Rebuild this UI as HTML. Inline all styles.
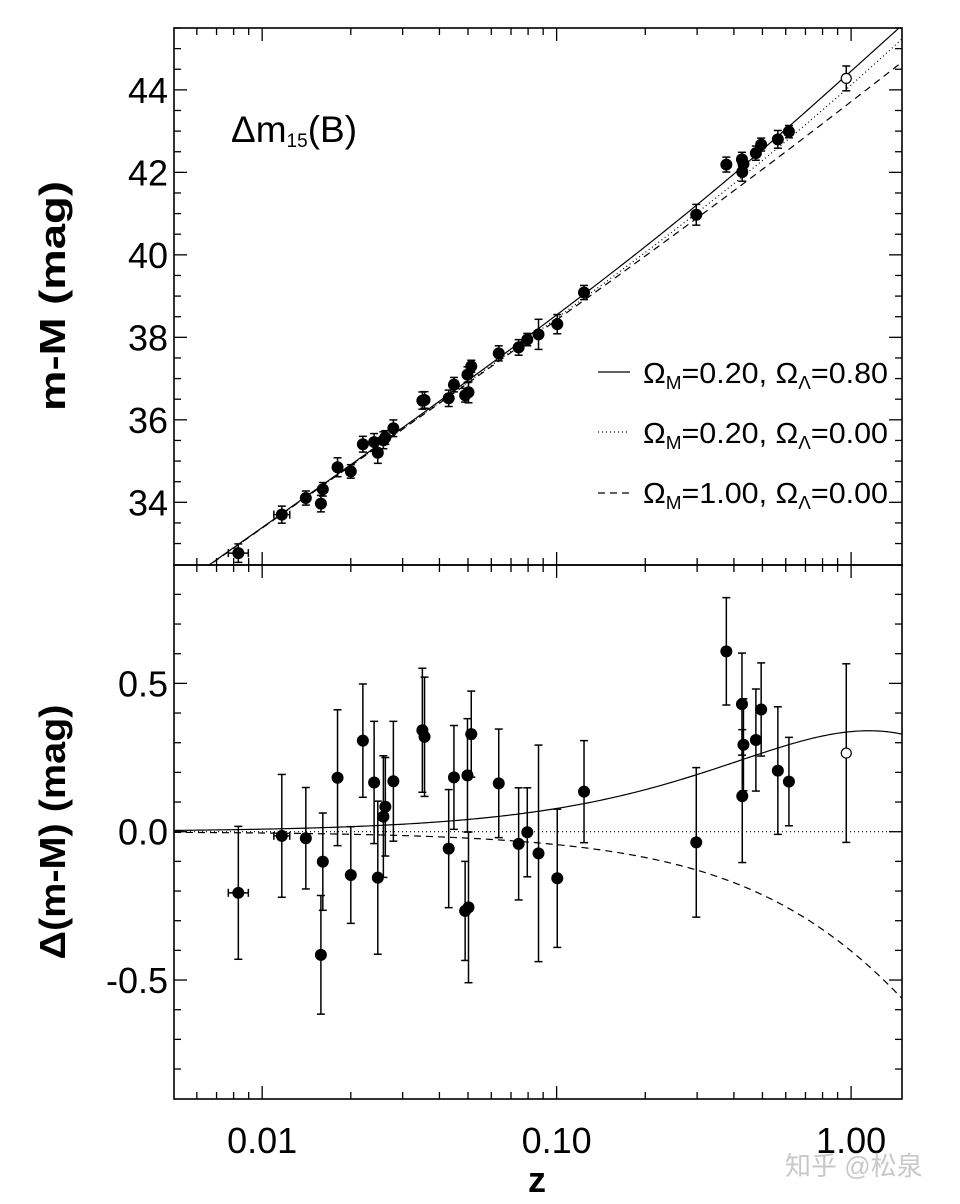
<!DOCTYPE html>
<html><head><meta charset="utf-8"><style>
html,body{margin:0;padding:0;background:#fff;}
svg{display:block;font-family:"Liberation Sans",Arial,sans-serif;}
</style></head><body>
<svg id="chart" width="960" height="1204" viewBox="0 0 960 1204" xmlns="http://www.w3.org/2000/svg">
<rect width="960" height="1204" fill="#fff"/>
<g id="curves-top"></g>
<g id="curves-bot"></g>
<g id="marks-top"></g>
<g id="marks-bot"></g>
<g id="axes"></g>
<text x="231" y="142" font-size="37">Δm<tspan font-size="19" dy="5">15</tspan><tspan dy="-5">(B)</tspan></text>
<text transform="translate(65,296) rotate(-90)" text-anchor="middle" font-size="36" font-weight="bold" textLength="230" lengthAdjust="spacingAndGlyphs">m-M (mag)</text>
<text transform="translate(65,832) rotate(-90)" text-anchor="middle" font-size="36" font-weight="bold" textLength="255" lengthAdjust="spacingAndGlyphs">Δ(m-M) (mag)</text>
<text x="537" y="1192" text-anchor="middle" font-size="36" font-weight="bold">z</text>
<g>
 <g>
  <line x1="598" y1="372" x2="630" y2="372" stroke="#000" stroke-width="1.2"/>
  <text x="643" y="383" font-size="29" textLength="245" lengthAdjust="spacingAndGlyphs">Ω<tspan font-size="18" dy="6">M</tspan><tspan dy="-6">=0.20, Ω</tspan><tspan font-size="18" dy="6">Λ</tspan><tspan dy="-6">=0.80</tspan></text>
 </g>
 <g>
  <line x1="598" y1="432" x2="630" y2="432" stroke="#000" stroke-width="1.2" stroke-dasharray="1,3"/>
  <text x="643" y="443" font-size="29" textLength="245" lengthAdjust="spacingAndGlyphs">Ω<tspan font-size="18" dy="6">M</tspan><tspan dy="-6">=0.20, Ω</tspan><tspan font-size="18" dy="6">Λ</tspan><tspan dy="-6">=0.00</tspan></text>
 </g>
 <g>
  <line x1="598" y1="493" x2="630" y2="493" stroke="#000" stroke-width="1.2" stroke-dasharray="7,5"/>
  <text x="643" y="503" font-size="29" textLength="245" lengthAdjust="spacingAndGlyphs">Ω<tspan font-size="18" dy="6">M</tspan><tspan dy="-6">=1.00, Ω</tspan><tspan font-size="18" dy="6">Λ</tspan><tspan dy="-6">=0.00</tspan></text>
 </g>
</g>
<text x="785" y="1175" font-size="26" fill="#c8c8c8" font-family="'Liberation Sans','Noto Sans CJK SC',sans-serif">知乎 @松泉</text>
</svg>
<script>
const zVals=[0.0083,0.01166,0.01407,0.01607,0.01583,0.01803,0.0200,0.02198,0.0240,0.0247,0.0262,0.0258,0.0279,0.0350,0.0356,0.0430,0.0448,0.0489,0.0502,0.0498,0.0513,0.0636,0.0743,0.0795,0.0868,0.1005,0.1239,0.298,0.377,0.426,0.427,0.431,0.475,0.495,0.564,0.615,0.963];
const residuals=[-0.206,-0.014,-0.022,-0.101,-0.415,0.182,-0.146,0.307,0.166,-0.155,0.084,0.051,0.170,0.342,0.320,-0.057,0.183,-0.267,-0.255,0.190,0.329,0.163,-0.041,-0.002,-0.073,-0.157,0.135,-0.036,0.608,0.430,0.120,0.293,0.309,0.412,0.206,0.169,0.265];
const errors=[0.224,0.207,0.171,0.164,0.200,0.229,0.163,0.191,0.206,0.258,0.166,0.205,0.202,0.209,0.201,0.199,0.175,0.167,0.254,0.191,0.145,0.183,0.189,0.150,0.365,0.233,0.172,0.252,0.181,0.172,0.224,0.155,0.172,0.157,0.215,0.149,0.301];
const zErrDex=[0.034,0.027,0.012,0.010,0.010,0.006,0.006,0.004,0.004,0.004,0,0,0,0,0,0,0,0,0,0,0,0,0,0,0,0,0,0,0,0,0,0,0,0,0,0,0];
const openMarker=[0,0,0,0,0,0,0,0,0,0,0,0,0,0,0,0,0,0,0,0,0,0,0,0,0,0,0,0,0,0,0,0,0,0,0,0,1];
const models=[[0.2,0.8,"none"],[0.2,0.0,"1,3"],[1.0,0.0,"7,5"]];
const H0=63.5;
const topTicks=[34,36,38,40,42,44];
const botTicks=[-0.5,0.0,0.5];
const botTickLabels=["-0.5","0.0","0.5"];
const xTicks=[0.01,0.1,1.0];
const xTickLabels=["0.01","0.10","1.00"];

const L=174,R=902,T=28,M=565,B=1099;
const lx0=-2.2994,lx1=0.1729;
const X=z=>L+(Math.log10(z)-lx0)/(lx1-lx0)*(R-L);
const topMin=32.48,topMax=45.50;
const YT=v=>M-(v-topMin)/(topMax-topMin)*(M-T);
const botMin=-0.901,botMax=0.899;
const YB=v=>B-(v-botMin)/(botMax-botMin)*(B-M);
const NS="http://www.w3.org/2000/svg";
function mk(tag,attrs,parent){const e=document.createElementNS(NS,tag);for(const k in attrs)e.setAttribute(k,attrs[k]);parent.appendChild(e);return e;}
function mu(z,om,ol){const ok=1-om-ol;const n=200;const h=z/n;let s=0;
 for(let i=0;i<=n;i++){const zz=i*h;const E=Math.sqrt(om*Math.pow(1+zz,3)+ok*Math.pow(1+zz,2)+ol);const w=(i==0||i==n)?1:(i%2?4:2);s+=w/E;}
 let I=s*h/3;let dc=I;if(ok>1e-6)dc=Math.sinh(Math.sqrt(ok)*I)/Math.sqrt(ok);else if(ok<-1e-6)dc=Math.sin(Math.sqrt(-ok)*I)/Math.sqrt(-ok);
 const dL=299792.458/H0*(1+z)*dc;return 5*Math.log10(dL)+25;}
const ref=z=>mu(z,0.2,0.0);

const svg=document.getElementById('chart');
const defs=mk('defs',{},svg);const cp=mk('clipPath',{id:'clipTop'},defs);mk('rect',{x:L,y:T,width:R-L,height:M-T},cp);
const ct=document.getElementById('curves-top'),cb=document.getElementById('curves-bot');
models.forEach((m,mi)=>{let pt=[],pb=[];
 for(let i=0;i<=300;i++){const lz=lx0+(lx1-lx0)*i/300;const z=Math.pow(10,lz);const v=mu(z,m[0],m[1]);
  pt.push(X(z).toFixed(2)+","+YT(v).toFixed(2));pb.push(X(z).toFixed(2)+","+YB(v-ref(z)).toFixed(2));}
 const a=mk('polyline',{points:pt.join(" "),fill:"none",stroke:"#000","stroke-width":1.2,"stroke-dasharray":m[2],"clip-path":"url(#clipTop)"},ct);
 
 
 const b=mk('polyline',{points:pb.join(" "),fill:"none",stroke:"#000","stroke-width":1.2,"stroke-dasharray":m[2]},cb);
 
 
});

function drawPoint(g,i,Yf,val){const x=X(zVals[i]),y=Yf(val),e=Math.abs(Yf(val+errors[i])-y);
 const grp=mk('g',{},g);
 
 
 mk('line',{x1:x,y1:y-e,x2:x,y2:y+e,stroke:"#000","stroke-width":1.5},grp);
 mk('line',{x1:x-4,y1:y-e,x2:x+4,y2:y-e,stroke:"#000","stroke-width":1.5},grp);
 mk('line',{x1:x-4,y1:y+e,x2:x+4,y2:y+e,stroke:"#000","stroke-width":1.5},grp);
 if(zErrDex[i]>0){const xa=X(zVals[i]*Math.pow(10,-zErrDex[i])),xb=X(zVals[i]*Math.pow(10,zErrDex[i]));
  mk('line',{x1:xa,y1:y,x2:xb,y2:y,stroke:"#000","stroke-width":1.5},grp);
  mk('line',{x1:xa,y1:y-4,x2:xa,y2:y+4,stroke:"#000","stroke-width":1.5},grp);
  mk('line',{x1:xb,y1:y-4,x2:xb,y2:y+4,stroke:"#000","stroke-width":1.5},grp);}
 if(openMarker[i])mk('circle',{cx:x,cy:y,r:5,fill:"#fff",stroke:"#000","stroke-width":1.2},grp);
 else mk('circle',{cx:x,cy:y,r:6,fill:"#000"},grp);}
const mt=document.getElementById('marks-top'),mb=document.getElementById('marks-bot');
zVals.forEach((z,i)=>{drawPoint(mt,i,YT,ref(z)+residuals[i]);drawPoint(mb,i,YB,residuals[i]);});

const ax=document.getElementById('axes');
[[T,M],[M,B]].forEach(p=>{const r=mk('rect',{x:L,y:p[0],width:R-L,height:p[1]-p[0],fill:"none",stroke:"#000","stroke-width":1.6},ax);
 
 });
for(let d=-3;d<=0;d++)for(let k=1;k<=9;k++){const z=k*Math.pow(10,d);const lz=Math.log10(z);if(lz<lx0||lz>lx1)continue;const x=X(z);const len=k==1?13:7;
 [T,M,B].forEach(yb=>{if(yb!=T)mk('line',{x1:x,y1:yb,x2:x,y2:yb-len,stroke:"#000","stroke-width":1.3},ax);if(yb!=B)mk('line',{x1:x,y1:yb,x2:x,y2:yb+len,stroke:"#000","stroke-width":1.3},ax);});}
xTicks.forEach((t,i)=>{const tx=mk('text',{x:X(t),y:1153,"text-anchor":"middle","font-size":36},ax);tx.textContent=xTickLabels[i];
 
 });
for(let v=33;v<=45.5;v+=0.5){const y=YT(v);const maj=Math.abs(v/2-Math.round(v/2))<1e-6;const len=maj?13:7;
 mk('line',{x1:L,y1:y,x2:L+len,y2:y,stroke:"#000","stroke-width":1.3},ax);mk('line',{x1:R,y1:y,x2:R-len,y2:y,stroke:"#000","stroke-width":1.3},ax);}
topTicks.forEach(t=>{const tx=mk('text',{x:168,y:YT(t)+13,"text-anchor":"end","font-size":36},ax);tx.textContent=t;
 
 });
for(let k=-8;k<=8;k++){const v=k/10;const y=YB(v);const len=(k%5==0)?13:7;
 mk('line',{x1:L,y1:y,x2:L+len,y2:y,stroke:"#000","stroke-width":1.3},ax);mk('line',{x1:R,y1:y,x2:R-len,y2:y,stroke:"#000","stroke-width":1.3},ax);}
botTicks.forEach((t,i)=>{const tx=mk('text',{x:168,y:YB(t)+13,"text-anchor":"end","font-size":36},ax);tx.textContent=botTickLabels[i];
 
 });
</script>
</body></html>
